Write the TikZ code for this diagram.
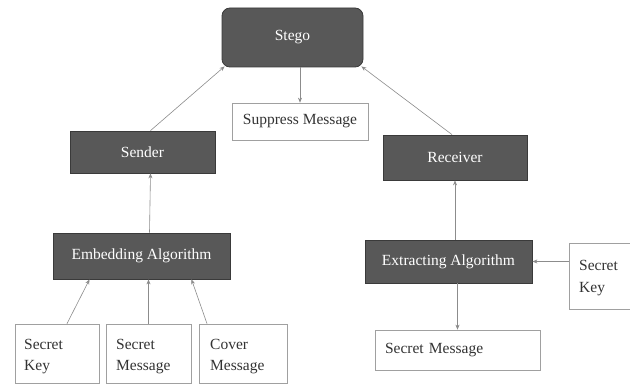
\documentclass[tikz,border=0pt]{standalone}
\usepackage{fontspec}
\setmainfont{Liberation Serif}
\usetikzlibrary{arrows.meta}
\definecolor{darkbox}{HTML}{585858}
\definecolor{darkedge}{HTML}{3A3A3A}
\definecolor{lightedge}{HTML}{A0A0A0}
\definecolor{linkcol}{HTML}{8C8C8C}
\tikzset{
  dark/.style={draw=darkedge, fill=darkbox, line width=0.8pt, text=white,
    inner sep=0pt, font=\fontsize{15.5}{17}\selectfont},
  light/.style={draw=lightedge, fill=white, line width=0.7pt, text=black!80,
    inner sep=0pt, font=\fontsize{15.5}{17}\selectfont},
  link/.style={draw=linkcol, line width=0.6pt, -{Stealth[length=5pt,width=4pt]}}
}
\begin{document}
\begin{tikzpicture}[x=1pt,y=-1pt]
\useasboundingbox (0,0) rectangle (630,385);
\fill[white] (0,0) rectangle (630,385);

% top
\node[dark, rounded corners=8pt, minimum width=141pt, minimum height=59pt] (stego) at (292.5,37.5) {Stego};
\node[light, minimum width=136pt, minimum height=37pt] (suppress) at (300,121.5) {Suppress Message};

% sender side
\node[dark, minimum width=145pt, minimum height=42pt] (sender) at (142.5,152) {Sender};
\node[dark, minimum width=177pt, minimum height=46pt] (embed) at (141.5,256) {Embedding Algorithm};
\node[light, minimum width=84pt, minimum height=59pt] (skey) at (57,353.5) {};
\node[light, minimum width=85pt, minimum height=59pt] (smsg) at (148.5,353.5) {};
\node[light, minimum width=88pt, minimum height=59pt] (cmsg) at (243,353.5) {};
\node[anchor=west, align=left, text=black!80, font=\fontsize{15.5}{21}\selectfont, inner sep=0pt] (skeyt) at (24,357) {Secret\\Key};
\node[anchor=west, align=left, text=black!80, font=\fontsize{15.5}{21}\selectfont, inner sep=0pt] (smsgt) at (116,357) {Secret\\Message};
\node[anchor=west, align=left, text=black!80, font=\fontsize{15.5}{21}\selectfont, inner sep=0pt] (cmsgt) at (210,357) {Cover\\Message};

% receiver side
\node[dark, minimum width=144pt, minimum height=45pt] (receiver) at (455,157.5) {Receiver};
\node[dark, minimum width=167pt, minimum height=43pt] (extract) at (448.5,261.5) {Extracting Algorithm};
\node[light, minimum width=62pt, minimum height=66pt] (rkey) at (600,276) {};
\node[anchor=west, align=left, text=black!80, font=\fontsize{15.5}{22}\selectfont, inner sep=0pt] (rkeyt) at (579,278) {Secret\\Key};
\node[light, minimum width=165pt, minimum height=40pt, text width=145pt, align=left] (rmsg) at (457.5,350) {Secret Message};

% connectors
\draw[link] (stego.south -| suppress.north) -- (suppress.north);
\draw[link] ([xshift=8pt]sender.north) -- ([xshift=3pt,yshift=1pt]stego.south west);
\draw[link] ([xshift=-3pt]receiver.north) -- ([xshift=-2pt,yshift=1pt]stego.south east);
\draw[link] ([xshift=8pt]embed.north) -- ([xshift=8pt]sender.south);
\draw[link] ([xshift=10pt]skey.north) -- ([xshift=-52pt]embed.south);
\draw[link] (smsg.north) -- (smsg.north |- embed.south);
\draw[link] ([xshift=-36pt]cmsg.north) -- ([xshift=50pt]embed.south);
\draw[link] (extract.north -| receiver.south) -- (receiver.south);
\draw[link] (rkey.west |- extract.east) -- (extract.east);
\draw[link] (extract.south -| rmsg.north) -- (rmsg.north);
\end{tikzpicture}
\end{document}
